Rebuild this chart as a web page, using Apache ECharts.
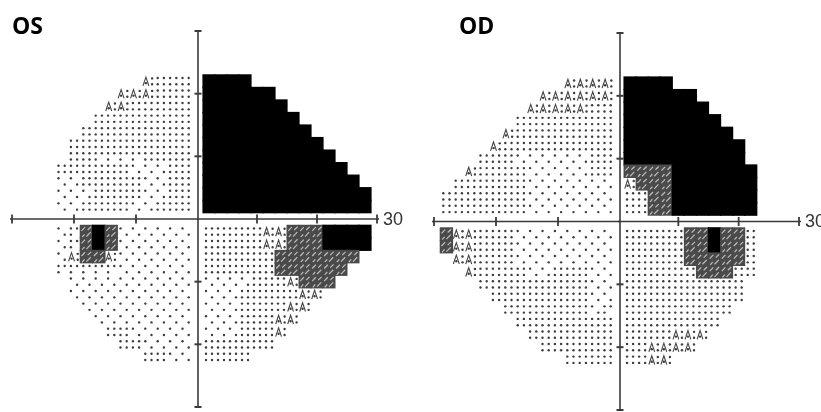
<!DOCTYPE html>
<html><head><meta charset="utf-8">
<script src="https://cdn.jsdelivr.net/npm/echarts@6/dist/echarts.min.js"></script>
<style>html,body{margin:0;padding:0;background:#fff}#c{width:821px;height:412px}</style>
</head><body><div id="c"></div>
<script>
// Cell centres (degrees). Each cell is a 2x2 degree grayscale symbol.
const colDeg = [-28,-26,-24,-22,-20,-18,-16,-14,-12,-10,-8,-6,-4,-2,2,4,6,8,10,12,14,16,18,20,22,24,26,28];
const rowDeg = [22,20,18,16,14,12,10,8,6,4,2,-2,-4,-6,-8,-10,-12,-14,-16,-18,-20,-22];
const axisTicks = [-30,-20,-10,0,10,20,30];
const axisEndLabel = '30';
const panelTitles = ['OS','OD'];
// tone codes: '.' sparse, ';' medium, ':' dense dots, 'a' triangle symbols, 'h' dark hatched, '#' black
const osRows = [
"          a:::|####",
"        aaa:::|######",
"       aa:::::|#######",
"      ::::::::|########",
"     :::::::::|#########",
"    ::::::::::|##########",
"    ::;;;;::::|###########",
"   ::::::...::|############",
"   ..:::::..::|#############",
"   ...::::..::|##############",
"   ..::::..:::|##############",
"   .;h#h......|:::::aahhh####",
"   .;h#h......|:::::aahhh####",
"   .ahha......|::::::hhhhhhh",
"   ;;;;;......|::::::hhhhhh",
"    ..........|....:::ahhh",
"    ..........|...:::::aa",
"     .........|...::::aa",
"      ........|...:::aa",
"       ::.....|...:::a",
"        ::....|::::::",
"          ::..|::::"
];
const odRows = [
"          aaaa|####",
"        aaaaaa|######",
"       aaaaa::|#######",
"      ::::::::|########",
"     a::::::::|#########",
"    a:::::::::|##########",
"   :::......::|##########",
"  a::::.....::|hhhh#######",
" ::::::.......|ahhh#######",
":::::::.......|::hh#######",
":::::::.......|::hh#######",
"haa:::........|:::::hh#hh:",
"haa:::........|:::::hh#hh:",
" aa:::........|:::::hhhhh:",
"  a::::..:::..|::::::hhh::",
"   :::::::::..|::::::::::",
"    ::::::::..|::::::::::",
"     :::::::.;|:::::::::",
"      ::::::::|::::::::",
"       :::::::|::::aaa",
"        ::::::|::aaaa",
"          ::::|::aa"
];

const TONES = {'.':1, ';':2, ':':3, 'a':4, 'h':5, '#':6};
function cellsFrom(rows, side) {
  const out = [];
  rows.forEach((r, i) => {
    const parts = r.split('|');
    const s = (side < 0 ? parts[0] : (parts[1] || '')).padEnd(14, ' ');
    for (let k = 0; k < 14; k++) {
      const t = TONES[s[k]];
      if (!t) continue;
      out.push([side < 0 ? colDeg[k] : colDeg[14 + k], rowDeg[i], t]);
    }
  });
  return out;
}

const DOT = '#3c3c3c';
function cellItem(params, api) {
  const x = api.value(0), y = api.value(1), t = api.value(2);
  const a = api.coord([x - 1, y + 1]), b = api.coord([x + 1, y - 1]);
  const w = b[0] - a[0], h = b[1] - a[1];
  const P = (fx, fy) => [a[0] + fx * w, a[1] + fy * h];
  const kids = [];
  const dot = (fx, fy) => { const p = P(fx, fy); kids.push({type:'circle', shape:{cx:p[0], cy:p[1], r:1.2}, style:{fill:DOT}}); };
  if (t === 6) {
    kids.push({type:'rect', shape:{x:a[0] - 0.6, y:a[1] - 0.6, width:w + 1.2, height:h + 1.2}, style:{fill:'#000'}});
  } else if (t === 5) {
    kids.push({type:'rect', shape:{x:a[0] - 0.5, y:a[1] - 0.5, width:w + 1, height:h + 1}, style:{fill:'#4a4a4a'}});
    const segs = [[0.1,0.45,0.4,0.15],[0.5,0.9,0.85,0.55],[0.15,0.95,0.35,0.72],[0.6,0.38,0.88,0.12]];
    segs.forEach(sg => {
      const p1 = P(sg[0], sg[1]), p2 = P(sg[2], sg[3]);
      kids.push({type:'line', shape:{x1:p1[0], y1:p1[1], x2:p2[0], y2:p2[1]}, style:{stroke:'#bdbdbd', lineWidth:1.2}});
    });
  } else if (t === 4) {
    kids.push({type:'polyline', shape:{points:[P(0.06,0.88), P(0.3,0.18), P(0.54,0.88)]}, style:{stroke:'#444', lineWidth:1.1, fill:null}});
    dot(0.3, 0.66); dot(0.8, 0.28); dot(0.8, 0.75);
  } else if (t === 3) {
    dot(0.25,0.25); dot(0.75,0.25); dot(0.25,0.75); dot(0.75,0.75);
  } else if (t === 2) {
    dot(0.25,0.25); dot(0.75,0.25); dot(0.25,0.75);
  } else if (t === 1) {
    dot(0.25,0.25); dot(0.75,0.75);
  }
  return {type:'group', children:kids};
}

const AX = {stroke:'#3a3a3a', lineWidth:1.6};
function axisLeft(params, api) {
  const v = api.value(0);
  const kids = [];
  if (params.dataIndex === 0) {
    const top = api.coord([0, 30]), bot = api.coord([0, -30]);
    kids.push({type:'line', shape:{x1:top[0], y1:top[1], x2:bot[0], y2:bot[1]}, style:AX});
    const l = api.coord([-30, 0]), c = api.coord([0, 0]);
    kids.push({type:'line', shape:{x1:l[0] - 2, y1:l[1], x2:c[0], y2:c[1]}, style:AX});
  }
  if (v !== 0) {
    const py = api.coord([0, v]);
    kids.push({type:'line', shape:{x1:py[0] - 3.5, y1:py[1], x2:py[0] + 3.5, y2:py[1]}, style:{stroke:'#3a3a3a', lineWidth:2}});
  }
  if (v < 0) {
    const px = api.coord([v, 0]);
    kids.push({type:'line', shape:{x1:px[0], y1:px[1] - 4.5, x2:px[0], y2:px[1] + 4.5}, style:{stroke:'#3a3a3a', lineWidth:1.8}});
  }
  return {type:'group', children:kids};
}
function axisRight(params, api) {
  const v = api.value(0);
  const kids = [];
  if (params.dataIndex === 0) {
    const c = api.coord([0, 0]), r = api.coord([30, 0]);
    kids.push({type:'line', shape:{x1:c[0], y1:c[1], x2:r[0] + 2, y2:r[1]}, style:AX});
    kids.push({type:'text', x:r[0] + 6, y:r[1] + 1, style:{text:axisEndLabel, font:'18px "Liberation Sans"', fill:'#333', align:'left', verticalAlign:'middle'}});
  }
  const px = api.coord([v, 0]);
  kids.push({type:'line', shape:{x1:px[0], y1:px[1] - 4.5, x2:px[0], y2:px[1] + 4.5}, style:{stroke:'#3a3a3a', lineWidth:1.8}});
  return {type:'group', children:kids};
}

const grids = [
  {left:12, top:31, width:186, height:376},
  {left:197, top:31, width:180, height:376},
  {left:434, top:33, width:186, height:377},
  {left:618, top:33, width:181, height:377}
];
const xAxes = grids.map((g, i) => ({type:'value', gridIndex:i, min: i % 2 === 0 ? -30 : 0, max: i % 2 === 0 ? 0 : 30, show:false}));
const yAxes = grids.map((g, i) => ({type:'value', gridIndex:i, min:-30, max:30, show:false}));

const panels = [osRows, odRows];
const series = [];
panels.forEach((rows, p) => {
  [-1, 1].forEach((side, s) => {
    const gi = p * 2 + s;
    series.push({type:'custom', xAxisIndex:gi, yAxisIndex:gi, renderItem:cellItem, data:cellsFrom(rows, side), encode:{x:0, y:1}, silent:true, animation:false});
  });
  series.push({type:'custom', xAxisIndex:p*2, yAxisIndex:p*2, renderItem:axisLeft, data:axisTicks.map(v => [v]), encode:{x:0}, silent:true, animation:false, z:3});
  series.push({type:'custom', xAxisIndex:p*2+1, yAxisIndex:p*2+1, renderItem:axisRight, data:axisTicks.filter(v => v > 0).map(v => [v]), encode:{x:0}, silent:true, animation:false, z:3});
});

const chart = echarts.init(document.getElementById('c'), null, {renderer:'canvas'});
chart.setOption({
  backgroundColor:'#fff',
  animation:false,
  grid:grids, xAxis:xAxes, yAxis:yAxes,
  graphic:[
    {type:'text', left:12, top:16, style:{text:panelTitles[0], font:'bold 23px "Open Sans"', fill:'#000'}},
    {type:'text', left:459, top:16, style:{text:panelTitles[1], font:'bold 23px "Open Sans"', fill:'#000'}}
  ],
  series:series
});
</script></body></html>
